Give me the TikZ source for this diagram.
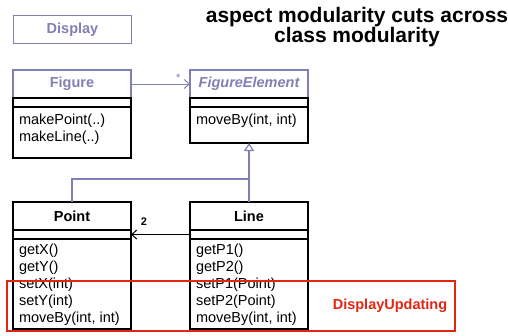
\documentclass[tikz,border=0pt]{standalone}
\usepackage{fontspec}
\setmainfont{Liberation Sans}
\usetikzlibrary{positioning}
\usetikzlibrary{arrows.meta}

\definecolor{umlblue}{RGB}{128,128,180}
\definecolor{aspectred}{RGB}{226,38,20}
\newcommand{\umlsize}{\fontsize{14.5pt}{17pt}\selectfont}

\tikzset{
  namebox/.style={draw=#1, line width=1.6pt, minimum width=118pt, minimum height=28pt,
    inner sep=0pt, outer sep=0pt, font=\umlsize\bfseries},
  attrbox/.style={draw=black, line width=1.8pt, minimum width=118pt, minimum height=9pt,
    inner sep=0pt, outer sep=0pt},
  opbox/.style={draw=black, line width=1.8pt, minimum width=118pt, minimum height=#1,
    inner sep=0pt, outer sep=0pt},
  optext/.style={align=left, inner sep=0pt, outer sep=0pt},
  assoc/.style={line width=1pt, -{Straight Barb[length=5pt, width=9pt]}},
  inherit/.style={umlblue, line width=1.2pt, -{Triangle[open, length=8pt, width=10pt]}},
}

\begin{document}
\begin{tikzpicture}[x=1pt, y=-1pt, font=\umlsize]
  \useasboundingbox (0,0) rectangle (508,335);

  % Title
  \node[font=\bfseries\fontsize{21pt}{18pt}\selectfont, align=center] (title) at (357,27)
    {aspect modularity cuts across\\class modularity};

  % Display
  \node[namebox=umlblue, text=umlblue] (display) at (72.5,29.5) {Display};

  % Figure
  \node[namebox=umlblue, text=umlblue] (figure) at (72,84) {Figure};
  \node[attrbox, below=0pt of figure] (figattr) {};
  \node[opbox=51pt, below=0pt of figattr] (figops) {};
  \node[optext, below right=7pt and 6pt of figops.north west] (figopstext)
    {makePoint(..)\\makeLine(..)};

  % FigureElement
  \node[namebox=umlblue, text=umlblue, font=\umlsize\bfseries\itshape] (figel) at (249,84) {FigureElement};
  \node[attrbox, below=0pt of figel] (figelattr) {};
  \node[opbox=36pt, below=0pt of figelattr] (figelops) {};
  \node[optext, below right=7pt and 6pt of figelops.north west] (figelopstext)
    {moveBy(int, int)};

  % Point
  \node[namebox=black] (point) at (72,216) {Point};
  \node[attrbox, below=0pt of point] (pointattr) {};
  \node[opbox=90pt, below=0pt of pointattr] (pointops) {};
  \node[optext, below right=5pt and 6pt of pointops.north west] (pointopstext)
    {getX()\\getY()\\setX(int)\\setY(int)\\moveBy(int, int)};

  % Line
  \node[namebox=black] (line) at (249,216) {Line};
  \node[attrbox, below=0pt of line] (lineattr) {};
  \node[opbox=90pt, below=0pt of lineattr] (lineops) {};
  \node[optext, below right=5pt and 6pt of lineops.north west] (lineopstext)
    {getP1()\\getP2()\\setP1(Point)\\setP2(Point)\\moveBy(int, int)};

  % Associations
  \draw[assoc, umlblue] (figure.east) -- (figel.west)
    node[pos=0.8, above=2pt, inner sep=0pt, font=\fontsize{11pt}{11pt}\selectfont] (star) {*};
  \draw[assoc, black] (lineattr.west) -- (pointattr.east)
    node[pos=0.78, above=9pt, inner sep=0pt, font=\bfseries\fontsize{11pt}{11pt}\selectfont] (two) {2};

  % Inheritance
  \coordinate (join) at (249,179);
  \draw[umlblue, line width=1.2pt] (point.north) |- (join);
  \draw[inherit] (line.north) -- (figelops.south);

  % Aspect
  \node[draw=aspectred, line width=1.6pt, minimum width=448pt, minimum height=50pt,
    inner sep=0pt, outer sep=0pt] (updating) at (231,306) {};
  \node[text=aspectred, font=\umlsize\bfseries] (updatingtext) at (390,306) {DisplayUpdating};
\end{tikzpicture}
\end{document}
